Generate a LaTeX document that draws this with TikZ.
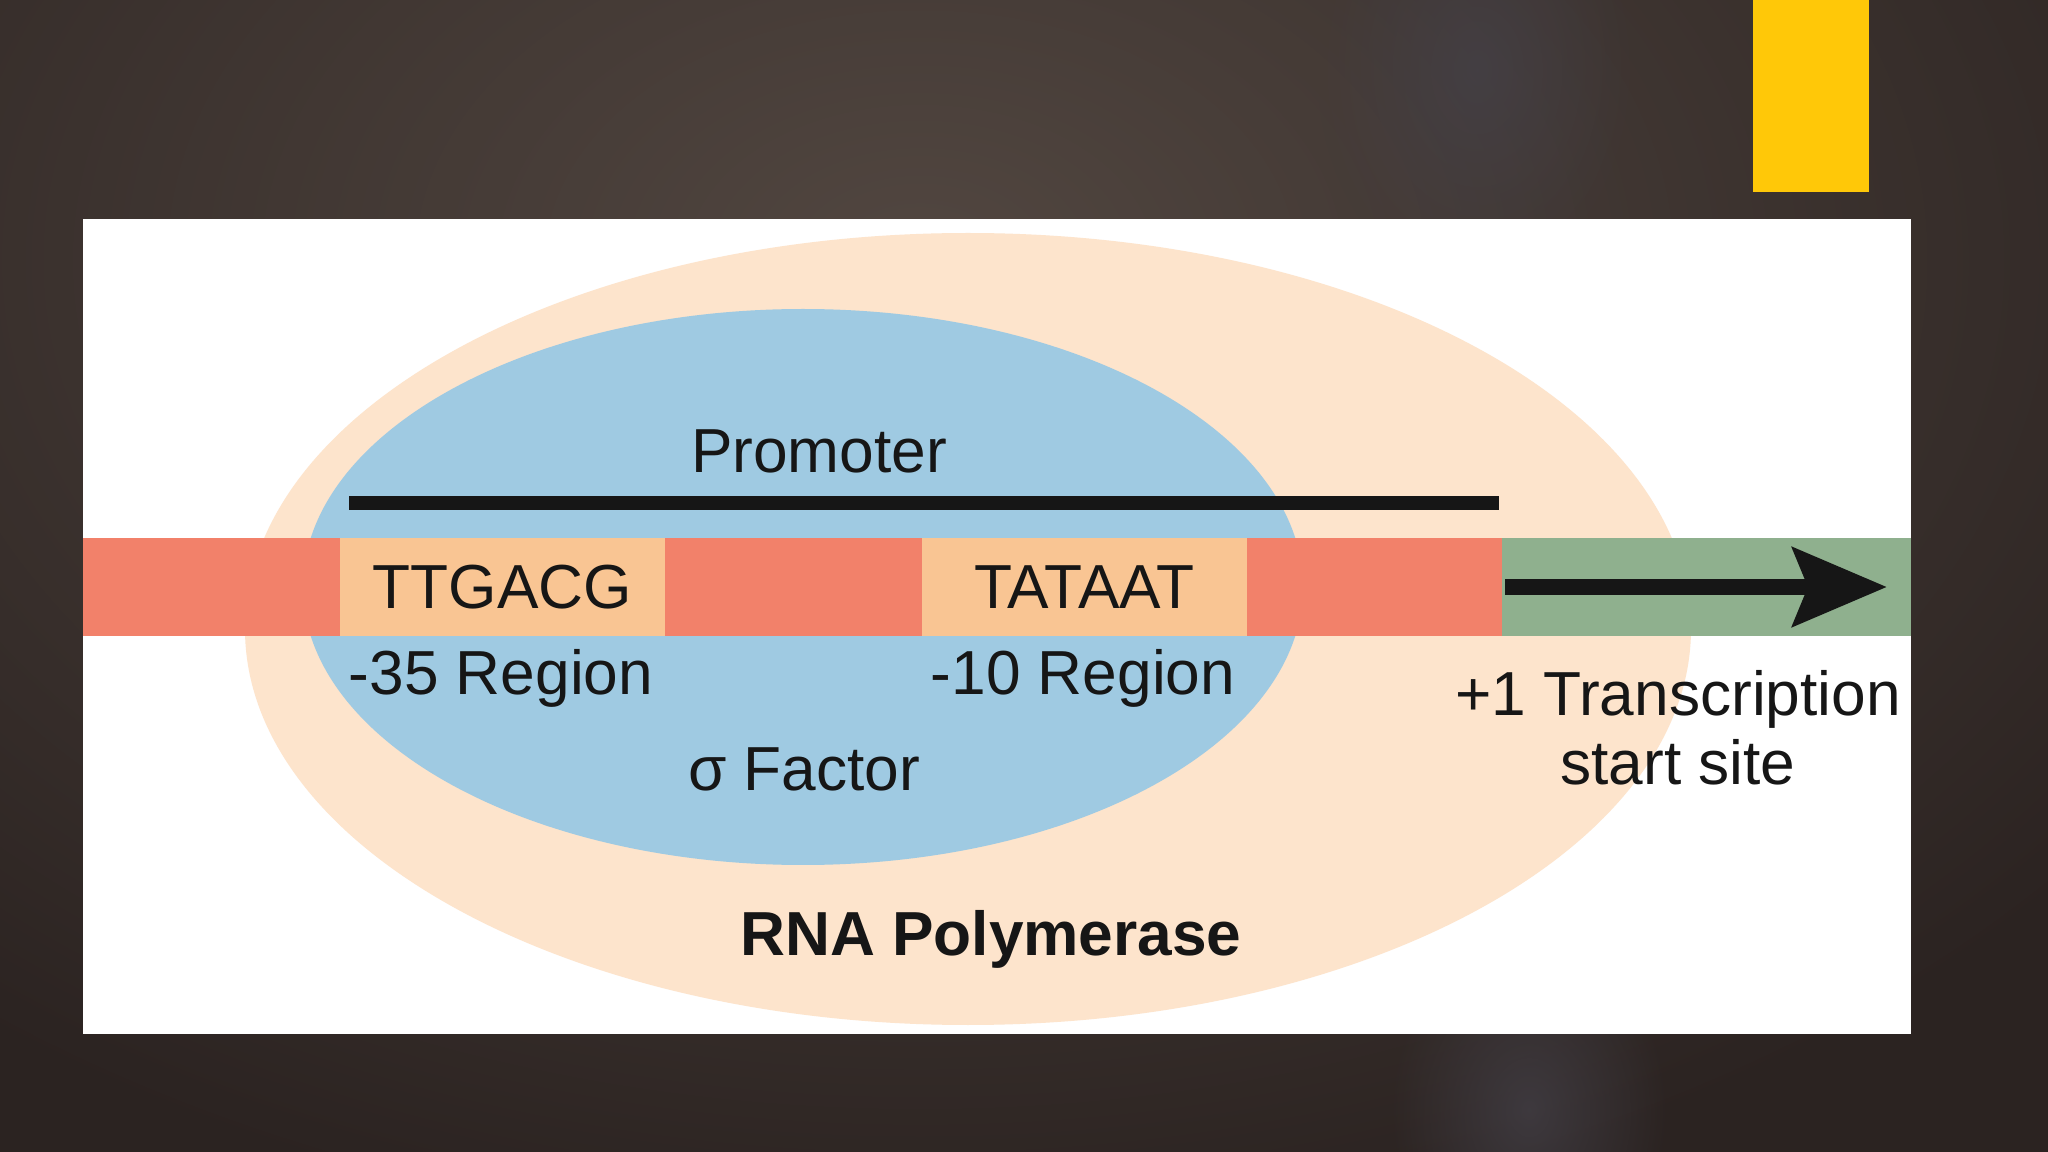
\documentclass[tikz,border=0pt]{standalone}
\usepackage{fontspec}
\setmainfont{Liberation Sans}
\usepackage{xcolor}
\definecolor{bgdark}{HTML}{2B2321}
\definecolor{bglight}{HTML}{524741}
\definecolor{bgspot}{HTML}{45424A}
\definecolor{gold}{HTML}{FFC808}
\definecolor{salmon}{HTML}{F2816A}
\definecolor{apricot}{HTML}{F9C593}
\definecolor{shell}{HTML}{FDE4CC}
\definecolor{sky}{HTML}{9FCAE2}
\definecolor{sage}{HTML}{8FB08E}
\definecolor{ink}{HTML}{161616}
\usepackage{tikz}
\usetikzlibrary{arrows.meta, positioning, calc, fadings}
\tikzfading[name=glow, inner color=transparent!0, outer color=transparent!100]

\begin{document}
\begin{tikzpicture}[
    x=1cm, y=-1cm,
    seg/.style={
        rectangle, minimum height=0.98cm,
        inner sep=0pt, outer sep=0pt, anchor=west,
        font=\fontsize{17.7}{19.6}\selectfont, text=ink
    },
    lbl/.style={inner sep=0pt, anchor=base, align=center,
        font=\fontsize{17.7}{19.6}\selectfont, text=ink},
    arr/.style={-{Stealth[length=9.4mm, width=7.8mm, inset=1.5mm]}, line width=4.7pt, ink}
]
\useasboundingbox (0,0) rectangle (20.48,11.52);

\fill[bgdark] (0,0) rectangle (20.48,11.52);
\begin{scope}
    \clip (0,0) rectangle (20.48,11.52);
    \fill[bglight, path fading=glow] (9.2,2.6) ellipse [x radius=15cm, y radius=10cm];
    \fill[bgspot, path fading=glow, opacity=0.7] (14.77,0.7) ellipse [x radius=1.6cm, y radius=2.2cm];
    \fill[bgspot, path fading=glow, opacity=0.7] (15.29,11.1) ellipse [x radius=1.4cm, y radius=1.8cm];
\end{scope}
\fill[gold] (17.53,0) rectangle (18.69,1.92);

\fill[white] (0.83,2.19) rectangle (19.11,10.34);
\fill[shell] (9.68,6.29) ellipse [x radius=7.23cm, y radius=3.96cm];
\fill[sky] (8.03,5.87) ellipse [x radius=5.0cm, y radius=2.78cm];

\node[seg, fill=salmon, minimum width=2.57cm] (up) at (0.83,5.87) {};
\node[seg, fill=apricot, minimum width=3.25cm, right=0pt of up] (ttg) {TTGACG};
\node[seg, fill=salmon, minimum width=2.57cm, right=0pt of ttg] (gap) {};
\node[seg, fill=apricot, minimum width=3.25cm, right=0pt of gap] (tat) {TATAAT};
\node[seg, fill=salmon, minimum width=2.55cm, right=0pt of tat] (dn) {};
\node[seg, fill=sage, minimum width=4.09cm, right=0pt of dn] (grn) {};

\coordinate (pl) at (3.49,5.03);
\coordinate (pr) at (14.99,5.03);
\draw[ink, line width=3.7pt] (pl) -- (pr);
\node[lbl] (prom) at (8.19,4.73) {Promoter};

\node[lbl] (r35) at (5.01,6.95) {-35 Region};
\node[lbl] (r10) at (10.83,6.95) {-10 Region};
\node[lbl] (sig) at (8.04,7.90) {σ Factor};
\node[lbl] (tss) at (16.78,7.84) {+1 Transcription\\start site};
\node[lbl, font=\fontsize{17.7}{19.6}\selectfont\bfseries] (pol) at (9.91,9.55) {RNA Polymerase};

\draw[arr] ($(grn.west)+(0.03,0)$) -- ($(grn.east)+(-0.24,0)$);

\end{tikzpicture}
\end{document}
